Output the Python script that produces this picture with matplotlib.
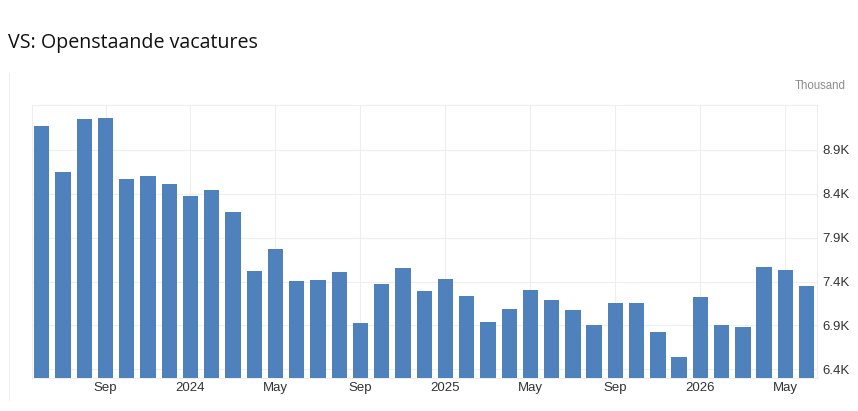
import pandas as pd
import matplotlib.pyplot as plt
from matplotlib.lines import Line2D

# Data (thousands), monthly from Jun 2023
months = pd.date_range('2023-06-01', periods=37, freq='MS')
openings = [9.17, 8.65, 9.25, 9.26, 8.57, 8.60, 8.51, 8.38, 8.44, 8.19,
            7.52, 7.77, 7.41, 7.42, 7.51, 6.93, 7.37, 7.55, 7.29, 7.43,
            7.24, 6.94, 7.09, 7.30, 7.19, 7.08, 6.91, 7.16, 7.16, 6.83,
            6.54, 7.22, 6.91, 6.88, 7.57, 7.53, 7.35]
yticks = [6.4, 6.9, 7.4, 7.9, 8.4, 8.9]
label_months = [1, 5, 9]

bar_color = '#4f81bd'
text_color = '#333333'

fig = plt.figure(figsize=(8.58, 4.11), dpi=100)

# faint left edge of the chart panel
fig.lines.append(Line2D([8.5 / 858, 8.5 / 858], [11 / 411, 338 / 411],
                        transform=fig.transFigure, color='#eeeeee', linewidth=0.8))

ax = fig.add_axes([32 / 858, 32.7 / 411, 785 / 858, 273.3 / 411])

x = list(range(len(openings)))
ax.bar(x, openings, width=0.72, color=bar_color, zorder=3)

# ticks
xt = [i for i, m in enumerate(months) if m.month in label_months]
xl = [str(months[i].year) if months[i].month == 1 else months[i].strftime('%b') for i in xt]
ax.set_xticks(xt)
ax.set_xticklabels(xl, fontsize=9.5, color=text_color, family='Liberation Sans')
ax.set_yticks(yticks)
ax.set_yticklabels([f'{v:.1f}K' for v in yticks], fontsize=9.5, color=text_color,
                   family='Liberation Sans')
ax.yaxis.tick_right()
ax.tick_params(length=0)
ax.tick_params(axis='y', pad=4)
ax.tick_params(axis='x', pad=3)

ax.set_xlim(-0.46, 36.49)
ax.set_ylim(6.297, 9.413)

ax.grid(True, color='#eeeeee', linewidth=0.8, zorder=0)
for s in ax.spines.values():
    s.set_color('#eeeeee')
    s.set_linewidth(0.8)

fig.text(8 / 858, (411 - 48) / 411, 'VS: Openstaande vacatures', fontsize=14.1,
         family='Open Sans', color='#111111', va='baseline')
fig.text(846 / 858, (411 - 86) / 411, 'Thousand', fontsize=8.3, color='#8c8c8c',
         family='Liberation Sans', ha='right', va='center')

plt.savefig('out.png', dpi=100)
